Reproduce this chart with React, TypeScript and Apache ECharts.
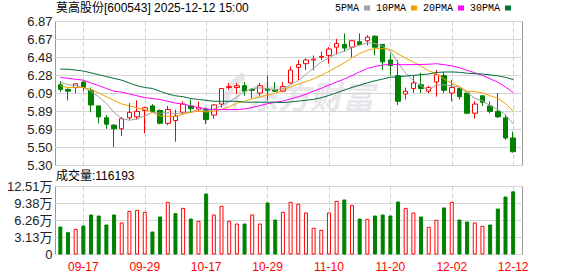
import React, { useEffect, useRef } from 'react';
import * as echarts from 'echarts';

const stockName = '莫高股份';
const stockCode = '600543';
const timestamp = '2025-12-12 15:00';

const dates = ['09-12','09-15','09-16','09-17','09-18','09-19','09-22','09-23','09-24','09-25','09-26','09-29','09-30','10-09','10-10','10-13','10-14','10-15','10-16','10-17','10-20','10-21','10-22','10-23','10-24','10-27','10-28','10-29','10-30','10-31','11-03','11-04','11-05','11-06','11-07','11-10','11-11','11-12','11-13','11-14','11-17','11-18','11-19','11-20','11-21','11-24','11-25','11-26','11-27','11-28','12-01','12-02','12-03','12-04','12-05','12-08','12-09','12-10','12-11','12-12'];

const opens  = [6.18,6.13,6.15,6.21,6.12,5.95,5.82,5.74,5.70,5.82,5.83,5.90,5.95,5.90,5.76,5.79,5.88,5.95,5.91,5.91,5.85,5.97,6.15,6.15,6.17,6.13,6.09,6.13,6.12,6.11,6.20,6.37,6.41,6.45,6.48,6.50,6.59,6.62,6.59,6.65,6.66,6.71,6.62,6.45,6.28,6.08,6.14,6.18,6.11,6.21,6.28,6.09,6.14,6.09,5.87,6.06,5.95,5.89,5.82,5.60];
const closes = [6.13,6.11,6.19,6.15,5.96,5.83,5.75,5.70,5.81,5.88,5.89,5.93,5.89,5.76,5.91,5.84,5.97,5.92,5.93,5.80,5.96,6.14,6.16,6.17,6.11,6.12,6.17,6.12,6.11,6.16,6.34,6.40,6.45,6.46,6.49,6.57,6.63,6.58,6.66,6.62,6.70,6.59,6.43,6.39,6.00,6.11,6.20,6.14,6.15,6.29,6.12,6.15,6.05,5.87,5.97,5.99,5.89,5.83,5.60,5.45];
const lows   = [6.10,6.01,6.09,6.11,5.88,5.76,5.70,5.50,5.62,5.80,5.80,5.65,5.88,5.75,5.74,5.56,5.85,5.88,5.89,5.75,5.81,5.93,6.13,6.08,6.06,6.03,6.06,6.01,6.10,6.10,6.19,6.23,6.34,6.34,6.45,6.41,6.51,6.54,6.48,6.61,6.61,6.50,6.34,6.28,5.96,6.02,6.09,6.09,6.09,6.05,6.09,6.00,6.02,5.86,5.81,5.95,5.87,5.82,5.58,5.44];
const highs  = [6.22,6.14,6.20,6.22,6.15,5.95,5.85,5.75,5.83,5.98,6.01,5.94,5.97,5.91,5.95,5.91,6.00,6.02,6.00,5.93,5.97,6.14,6.20,6.20,6.21,6.14,6.20,6.28,6.21,6.21,6.38,6.45,6.47,6.50,6.54,6.59,6.68,6.74,6.67,6.74,6.72,6.72,6.62,6.52,6.45,6.15,6.28,6.31,6.17,6.34,6.32,6.23,6.14,6.09,6.00,6.06,6.00,6.09,5.85,5.67];

const volumes = [51500,41100,47200,53300,73600,71700,55200,73600,58900,80300,82200,78500,42300,69900,96900,76000,85800,66200,61900,112200,73600,89500,61900,57000,57000,73600,57000,95700,64400,78500,96900,93200,77300,49100,45400,77300,98700,101200,91400,66200,65600,71700,73600,71700,97500,85800,77300,69900,50900,63800,86500,96900,64400,60700,58900,52700,55200,84600,106700,116193];

// moving-average values before a full window is visible
const ma5Head = [6.21,6.18,6.17,6.15];
const ma10Head = [6.17,6.15,6.15,6.15,6.13,6.09,6.05,6.01,5.97];
const ma20Head = [6.26,6.25,6.24,6.23,6.20,6.17,6.14,6.11,6.10,6.08,6.06,6.04,6.03,6.02,6.00,5.98,5.97,5.95,5.93];
const ma30Head = [6.35,6.35,6.34,6.33,6.31,6.29,6.27,6.25,6.23,6.20,6.17,6.15,6.14,6.11,6.08,6.06,6.05,6.03,6.02,6.01,6.00,6.00,6.00,6.00,5.99,5.99,5.99,5.99,5.99];

const maNames = ['5PMA','10PMA','20PMA','30PMA'];
const maColors = ['#a0a0a0','#f2a100','#ff00ff','#007034'];

const priceMin = 5.30;
const priceMax = 6.87;
const volMax = 125100;

const UP = '#ff0000';
const DOWN = '#008000';

function movingAverage(win: number, head: number[]) {
  return closes.map((_, i) => {
    if (i < win - 1) return head[i];
    let s = 0;
    for (let k = i - win + 1; k <= i; k++) s += closes[k];
    return +(s / win).toFixed(3);
  });
}

const labelEvery = (index: number) => (index - 3) % 8 === 0;

export default function App() {
  const ref = useRef<HTMLDivElement>(null);
  useEffect(() => {
    if (!ref.current) return;
    try {
      echarts.graphic.registerShape(
        'wmLogo',
        echarts.graphic.extendPath(
          'M22 0 C10 6 2 18 2 30 C2 35 4 38 6 40 C6 28 12 16 24 8 Z M25 12 C17 18 10 28 12 40 L16 40 C15 30 18 22 25 16 Z',
          {}
        ) as any
      );
    } catch (e) {}
    const chart = echarts.init(ref.current, null, { renderer: 'svg' });
    const mas = [movingAverage(5, ma5Head), movingAverage(10, ma10Head), movingAverage(20, ma20Head), movingAverage(30, ma30Head)];
    const candleData = dates.map((_, i) => [opens[i], closes[i], lows[i], highs[i]]);
    const volData = volumes.map((v, i) => {
      const up = i === 0 ? closes[i] >= opens[i] : closes[i] >= closes[i - 1];
      return {
        value: v,
        itemStyle: up
          ? { color: '#ffffff', borderColor: UP, borderWidth: 1 }
          : { color: DOWN, borderColor: DOWN, borderWidth: 1 },
      };
    });
    const fontFam = 'Liberation Sans, Arial, Noto Sans CJK SC, sans-serif';
    const priceFmt = (v: number) => (Math.round(v * 100 + 1e-4) / 100).toFixed(2);
    const volFmt = (v: number) => (v === 0 ? '0' : (Math.round(v / 100 + 1e-4) / 100).toFixed(2) + '万');

    const option: any = {
      animation: false,
      backgroundColor: '#ffffff',
      title: [
        {
          text: `${stockName}[${stockCode}] ${timestamp}`,
          left: 56, top: 2, padding: 0,
          textStyle: { fontSize: 12, fontWeight: 'normal', color: '#000', fontFamily: fontFam },
        },
        {
          text: `成交量:${volumes[volumes.length - 1]}`,
          left: 56, top: 170, padding: 0,
          textStyle: { fontSize: 12, fontWeight: 'normal', color: '#000', fontFamily: fontFam },
        },
      ],
      legend: {
        data: maNames,
        right: 67, top: 3, padding: 0,
        align: 'right',
        icon: 'rect',
        itemWidth: 6, itemHeight: 5, itemGap: 6,
        selectedMode: false,
        textStyle: { fontSize: 10, color: '#000', fontFamily: 'Liberation Mono, monospace' },
      },
      grid: [
        { left: 55.5, top: 21.5, width: 467, height: 144, show: true, borderColor: '#999', borderWidth: 1, backgroundColor: 'transparent' },
        { left: 56.5, top: 21.5, width: 460.5, height: 144 },
        { left: 55.5, top: 186.5, width: 467, height: 68, show: true, borderColor: '#999', borderWidth: 1, backgroundColor: 'transparent' },
        { left: 56.5, top: 186.5, width: 460.5, height: 68 },
      ],
      xAxis: [
        { gridIndex: 0, type: 'category', data: dates, show: false },
        {
          gridIndex: 1, type: 'category', data: dates, boundaryGap: true,
          axisLine: { show: false }, axisTick: { show: false }, axisLabel: { show: false },
          splitLine: { show: true, interval: labelEvery, alignWithLabel: true, lineStyle: { color: '#cccccc', width: 1, type: [4, 3] } },
        },
        { gridIndex: 2, type: 'category', data: dates, show: false },
        {
          gridIndex: 3, type: 'category', data: dates, boundaryGap: true,
          axisLine: { show: false }, axisTick: { show: false },
          axisLabel: { show: true, interval: labelEvery, color: UP, fontSize: 12, margin: 6, fontFamily: fontFam },
          splitLine: { show: true, interval: labelEvery, alignWithLabel: true, lineStyle: { color: '#cccccc', width: 1, type: [4, 3] } },
        },
      ],
      yAxis: [
        {
          gridIndex: 0, type: 'value', min: priceMin, max: priceMax, interval: (priceMax - priceMin) / 8,
          axisLine: { show: false }, axisTick: { show: false },
          axisLabel: { margin: 3, fontSize: 13, color: '#222', fontFamily: fontFam, formatter: priceFmt },
          splitLine: { show: true, lineStyle: { color: '#d6d6d6', width: 1 } },
        },
        { gridIndex: 1, type: 'value', min: priceMin, max: priceMax, show: false, splitLine: { show: false } },
        {
          gridIndex: 2, type: 'value', min: 0, max: volMax, interval: volMax / 4,
          axisLine: { show: false }, axisTick: { show: false },
          axisLabel: { margin: 3, fontSize: 13, color: '#222', fontFamily: fontFam, formatter: volFmt },
          splitLine: { show: true, lineStyle: { color: '#d6d6d6', width: 1 } },
        },
        { gridIndex: 3, type: 'value', min: 0, max: volMax, show: false, splitLine: { show: false } },
      ],
      graphic: [
        {
          type: 'group', z: 1, silent: true,
          children: [
            { type: 'wmLogo', x: 221, y: 72, style: { fill: '#e7e7eb' } },
            {
              type: 'text', x: 246, y: 95,
              style: {
                text: '东方财富', fill: '#e7e7eb', fontSize: 32, fontWeight: 'bold', fontStyle: 'italic',
                fontFamily: 'Noto Sans CJK SC', verticalAlign: 'middle', align: 'left',
              },
            },
          ],
        },
      ],
      series: [
        {
          name: 'K', type: 'candlestick', xAxisIndex: 1, yAxisIndex: 1,
          data: candleData, barWidth: 5,
          itemStyle: { color: '#ffffff', color0: DOWN, borderColor: UP, borderColor0: DOWN, borderWidth: 1 },
        },
        ...maNames.map((n, k) => ({
          name: n, type: 'line', xAxisIndex: 1, yAxisIndex: 1,
          data: mas[k], symbol: 'none', smooth: false,
          lineStyle: { color: maColors[k], width: 1 }, itemStyle: { color: maColors[k] },
        })),
        {
          name: 'VOL', type: 'bar', xAxisIndex: 3, yAxisIndex: 3,
          data: volData, barWidth: 4,
        },
      ],
    };
    chart.setOption(option);
    return () => chart.dispose();
  }, []);
  return <div ref={ref} style={{ position: 'fixed', left: 0, top: 0, width: 578, height: 276 }} />;
}
